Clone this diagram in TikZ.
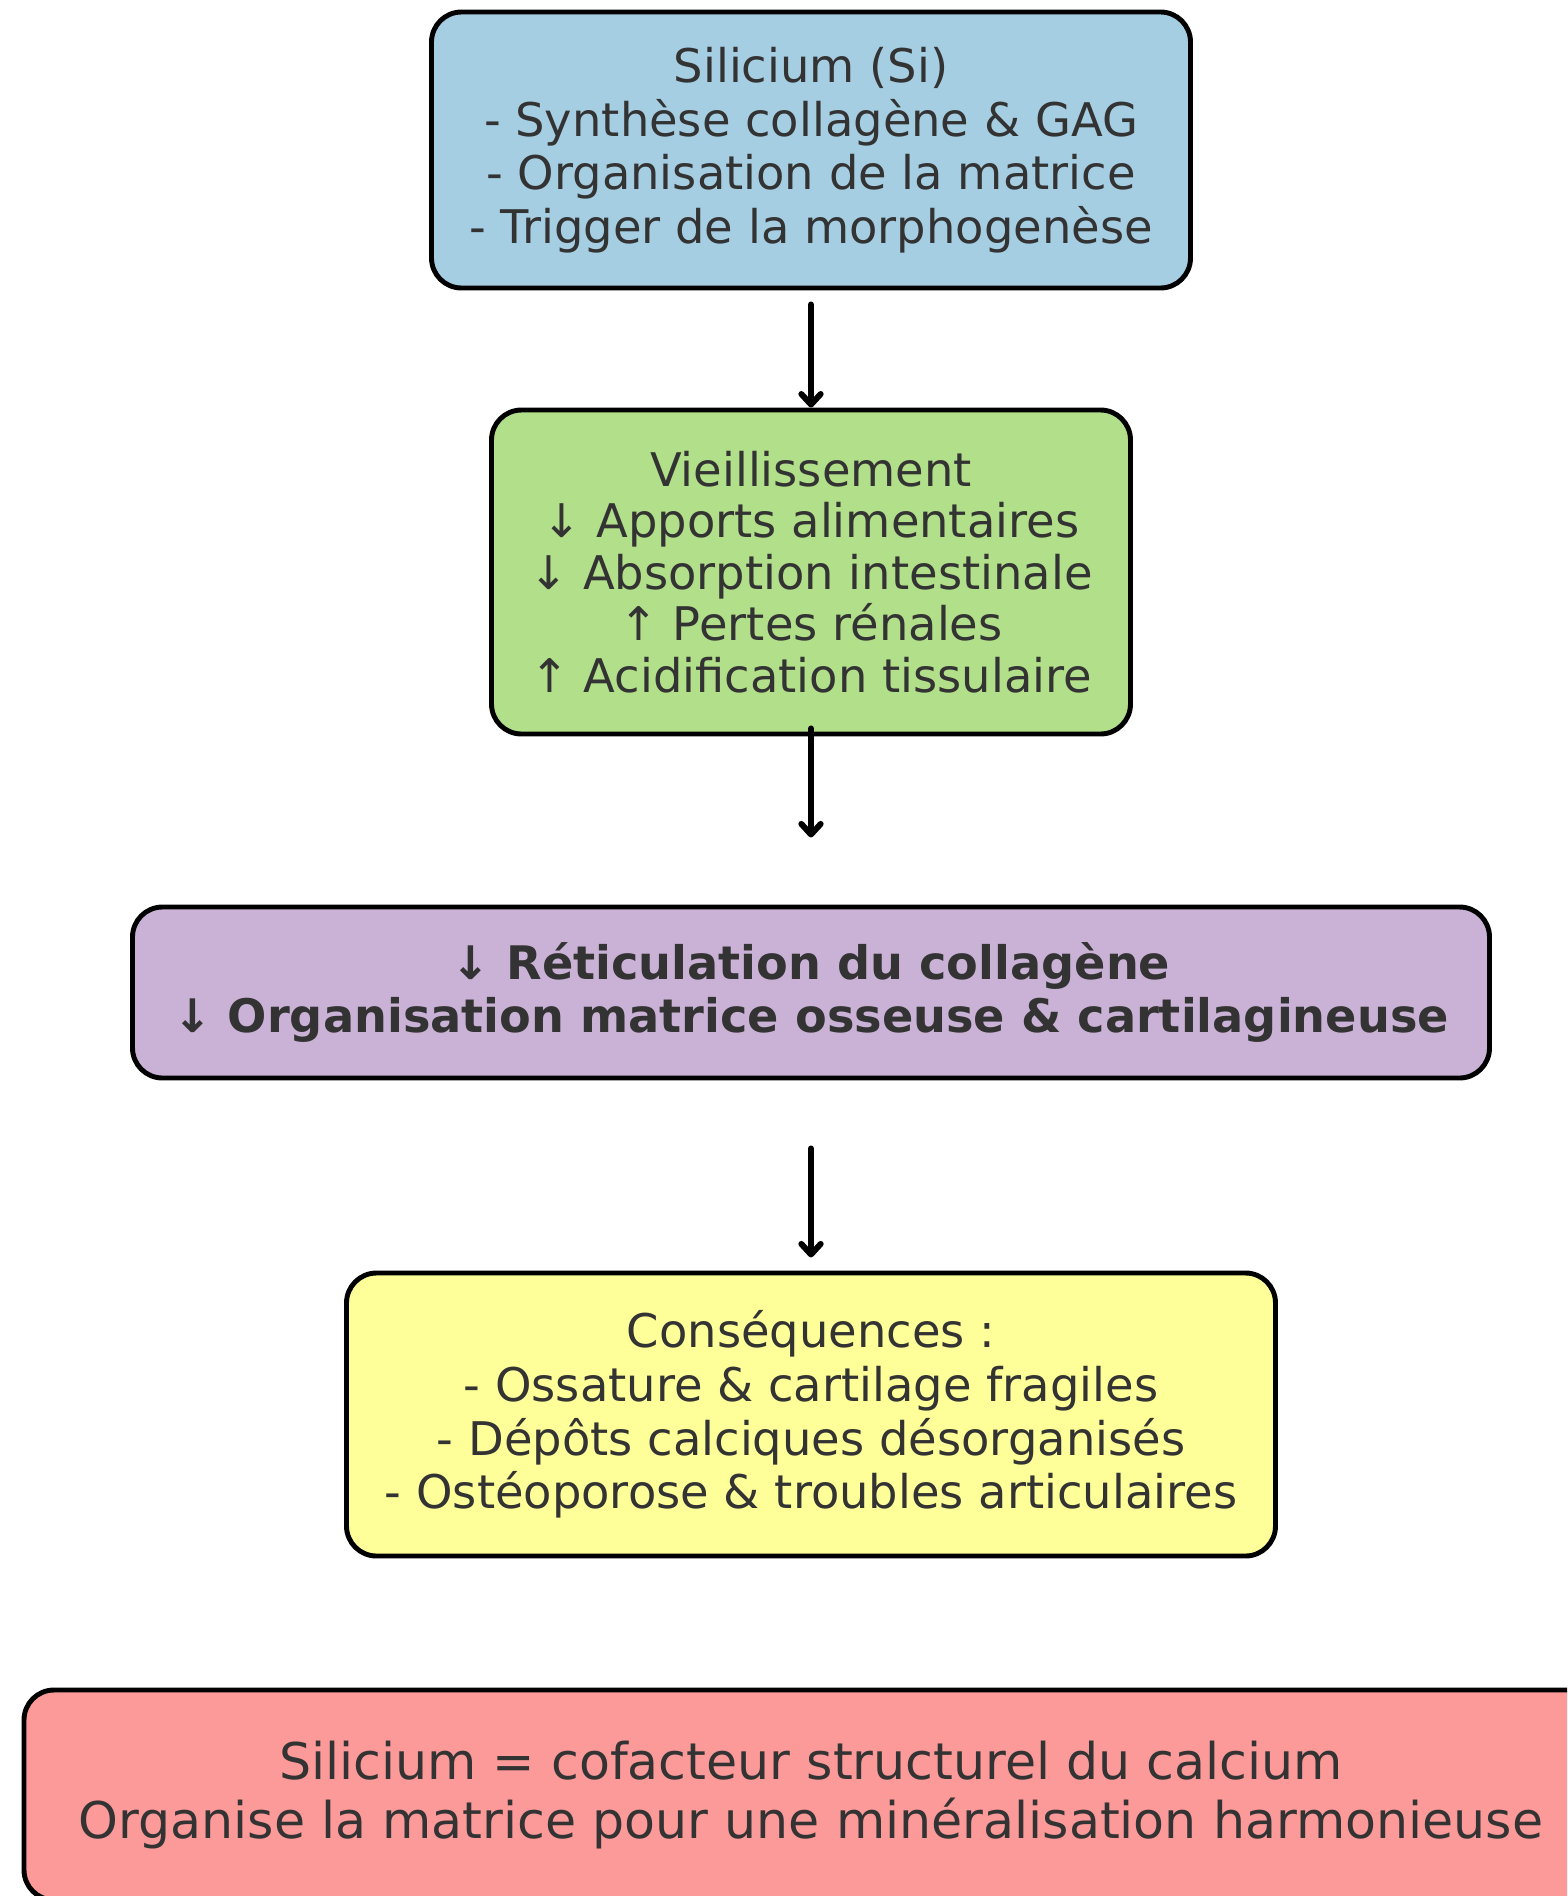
\documentclass[tikz,border=0pt]{standalone}
\usepackage{fontspec}
\setmainfont{DejaVu Sans}
\usetikzlibrary{arrows.meta}
\definecolor{siblue}{HTML}{A6CEE3}
\definecolor{agegreen}{HTML}{B2DF8A}
\definecolor{collpurple}{HTML}{CAB2D6}
\definecolor{conyellow}{HTML}{FFFF99}
\definecolor{keyred}{HTML}{FB9A99}
\definecolor{inkgray}{HTML}{333333}
\begin{document}
\begin{tikzpicture}[
		box/.style={draw=black, line width=2.8pt, rounded corners=0.6cm, align=center, text=inkgray,
			inner sep=0pt, font=\fontsize{26.4}{30.5}\selectfont},
		flow/.style={black, line width=3.4pt, line cap=round,
			-{Straight Barb[length=6pt,width=11pt,line width=3.4pt,round]}}]
		\useasboundingbox (0,0) rectangle (31.34,-37.92);
		\clip (0,0) rectangle (31.34,-37.92);

		\node[box, fill=siblue, minimum width=15.18cm, minimum height=5.52cm] (si) at (16.22,-3.0)
			{Silicium (Si)\\- Synthèse collagène \& GAG\\- Organisation de la matrice\\- Trigger de la morphogenèse};
		\node[box, fill=agegreen, minimum width=12.78cm, minimum height=6.48cm, font=\fontsize{26.4}{29.3}\selectfont] (age) at (16.22,-11.44)
			{Vieillissement\\↓ Apports alimentaires\\↓ Absorption intestinale\\↑ Pertes rénales\\↑ Acidification tissulaire};
		\node[box, fill=collpurple, minimum width=27.14cm, minimum height=3.42cm, font=\fontsize{26.3}{30.5}\selectfont\bfseries] (coll) at (16.22,-19.85)
			{↓ Réticulation du collagène\\↓ Organisation matrice osseuse \& cartilagineuse};
		\node[box, fill=keyred, minimum width=31.48cm, minimum height=4.2cm, font=\fontsize{28.8}{33.6}\selectfont] (key) at (16.22,-35.9)
			{Silicium = cofacteur structurel du calcium\\Organise la matrice pour une minéralisation harmonieuse};
		\node[box, fill=conyellow, minimum width=18.58cm, minimum height=5.66cm] (cons) at (16.22,-28.29)
			{Conséquences :\\- Ossature \& cartilage fragiles\\- Dépôts calciques désorganisés\\- Ostéoporose \& troubles articulaires};

		\coordinate (a1) at ([yshift=-0.28cm]si.south);
		\coordinate (a2) at ([yshift=0.16cm]age.south);
		\coordinate (b2) at ([yshift=-2.02cm]age.south);
		\coordinate (a3) at ([yshift=-1.36cm]coll.south);
		\coordinate (b3) at ([yshift=-3.54cm]coll.south);

		\draw[flow] (a1) -- (age.north);
		\draw[flow] (a2) -- (b2);
		\draw[flow] (a3) -- (b3);

	\end{tikzpicture}
\end{document}
